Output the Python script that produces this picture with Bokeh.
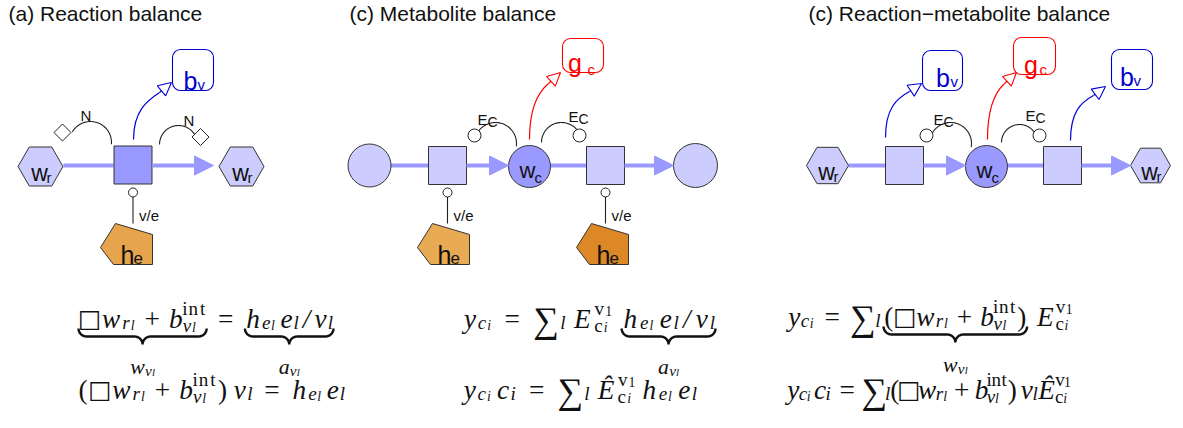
import numpy as np
from bokeh.plotting import figure
from bokeh.models import ColumnDataSource, Range1d, Arrow, NormalHead
from bokeh.embed import file_html
from bokeh.resources import INLINE
from bokeh.core.properties import value

# ---------------- texts ----------------
TITLES = ["(a) Reaction balance", "(c) Metabolite balance", "(c) Reaction\u2212metabolite balance"]
TITLE_X = [8, 349, 808]
TITLE_Y = [21, 21, 21]

# ---------------- diagram layout ----------------
HEX_X = [40, 241, 827, 1150]
HEX_Y = [174, 174, 173, 173]
HEX_SIZE = [45, 45, 42, 40]

SQ_X = [132.5, 447, 605, 904, 1062]
SQ_Y = [172.5, 173, 173, 173, 173]
SQ_FILL = ["#9999ff", "#ccccff", "#ccccff", "#ccccff", "#ccccff"]

SP_X = [369, 529, 695, 986]
SP_Y = [173, 174, 173, 174]
SP_SIZE = [43, 42, 44, 42]
SP_FILL = ["#ccccff", "#9999ff", "#ccccff", "#9999ff"]
SP_MAIN = ["", "w", "", "w"]
SP_SUB = ["", "c", "", "c"]

FLOW_Y = [173, 173, 173, 173, 173]
FLOW_X0 = [63, 390, 550, 848, 1007]
FLOW_X1 = [113, 428, 586, 885, 1043]
ARR_X0 = [152, 466, 624, 923, 1081]
ARR_X1 = [213, 508, 673, 965, 1130]

BOX_X = [192.5, 582.5, 942, 1034, 1131.5]
BOX_Y = [77.5, 63, 78, 63.5, 77]
BOX_W = [41, 41, 40, 42, 41]
BOX_H = [41, 34, 40, 37, 40]
BOX_COLOR = ["#0000cc", "#ff0000", "#0000cc", "#ff0000", "#0000cc"]
BOX_MAIN = ["b", "g", "b", "g", "b"]
BOX_SUB = ["v", "c", "v", "c", "v"]
BOX_MAIN_DX = [-2.5, -8, 0.5, -3.5, -5]
BOX_SUB_DX = [4.5, 4.5, 8, 5, 1.5]
BOX_MAIN_DY = [10.5, 7, 7, 8.5, 7]
BOX_SUB_DY = [14.5, 14, 11, 13.5, 11]

CUR_X0 = [133, 529, 885, 987, 1070]
CUR_Y0 = [147, 147, 145, 147, 148]
CUR_CX0 = [133, 529, 885, 987, 1070]
CUR_CY0 = [118, 118, 116, 118, 120]
CUR_CX1 = [147, 537, 896, 993, 1080]
CUR_CY1 = [108, 100, 106, 101, 110]
CUR_X1 = [159, 548, 909, 1004, 1093]
CUR_Y1 = [100, 91, 99, 91, 103]
TIP_X = [171, 560, 921, 1016, 1105]
TIP_Y = [90, 80, 91, 80, 94]
CUR_COLOR = ["#0000dd", "#ff0000", "#0000dd", "#ff0000", "#0000dd"]

ARC_CX = [90, 178, 495, 561, 950, 1019]
ARC_CY = [150, 152, 151, 150, 151, 150]
ARC_R = [21, 19, 21, 20, 21, 18]
ARC_A0 = [-5, 25, -8, 25, -10, 30]
ARC_A1 = [150, 180, 147, 180, 150, 180]
ARC_LAB = ["N", "N", "E", "E", "E", "E"]
ARC_LAB_SUB = ["", "", "C", "C", "C", "C"]
ARC_LAB_X = [80, 183, 477, 568, 933, 1025]
ARC_LAB_Y = [123, 128, 127, 124, 127, 123]

DIA_X = [62, 200]
DIA_Y = [140, 144.5]
MODC_X = [474, 579, 926, 1039]
MODC_Y = [143, 143, 143, 143]

CAT_X = [132.5, 447, 605]
CAT_CIRCLE_Y = 200
CAT_Y0, CAT_Y1 = 204, 231

HE_X = [126, 443, 602]
HE_Y = [252, 252, 252]
HE_FILL = ["#e6a54c", "#e8aa52", "#dc8826"]
PENT_DX = [-11, 26, 26, -13, -26]
PENT_DY = [-21, -10, 20, 20, 3]

# ---------------- equations ----------------
BOX = "\u25a1"
SUM = "\u2211"
EHAT = "\u00ca"

EQ_A1 = [("", "bs"), (BOX, "sym"), ("w", "i"), ("r", "si"), ("l", "ssi"), (".222", "sp"), ("+", "r"), (".222", "sp"),
         ("b", "i"), ("[", "st"), ("int", "pr"), ("|", "st"), ("v", "si"), ("l", "ssi"), ("]", "st"), ("w", "be"),
         (".278", "sp"), ("=", "r"), (".278", "sp"),
         ("", "bs"), ("h", "i"), ("e", "si"), ("l", "ssi"), (".167", "sp"), ("e", "i"), ("l", "si"), ("/", "i"),
         ("v", "i"), ("l", "si"), ("a", "be")]
EQ_A2 = [("(", "r"), (BOX, "sym"), ("w", "i"), ("r", "si"), ("l", "ssi"), (".222", "sp"), ("+", "r"), (".222", "sp"),
         ("b", "i"), ("[", "st"), ("int", "pr"), ("|", "st"), ("v", "si"), ("l", "ssi"), ("]", "st"), (")", "r"),
         (".167", "sp"), ("v", "i"), ("l", "si"), (".278", "sp"), ("=", "r"), (".278", "sp"),
         ("h", "i"), ("e", "si"), ("l", "ssi"), (".167", "sp"), ("e", "i"), ("l", "si")]
EQ_M1 = [("y", "i"), ("c", "si"), ("i", "ssi"), (".278", "sp"), ("=", "r"), (".278", "sp"), (SUM, "sum"), ("l", "si"),
         (".167", "sp"), ("E", "i"), ("[", "st"), ("v", "pr"), ("1", "psr"), ("|", "st"), ("c", "sr"), ("i", "ssi"),
         ("]", "st"), (".3", "sp"),
         ("", "bs"), ("h", "i"), ("e", "si"), ("l", "ssi"), (".167", "sp"), ("e", "i"), ("l", "si"), ("/", "i"),
         ("v", "i"), ("l", "si"), ("a", "be")]
EQ_M2 = [("y", "i"), ("c", "si"), ("i", "ssi"), (".167", "sp"), ("c", "i"), ("i", "si"), (".278", "sp"), ("=", "r"),
         (".278", "sp"), (SUM, "sum"), ("l", "si"), (".167", "sp"), (EHAT, "i"), ("[", "st"), ("v", "pr"),
         ("1", "psr"), ("|", "st"), ("c", "sr"), ("i", "ssi"), ("]", "st"), (".167", "sp"),
         ("h", "i"), ("e", "si"), ("l", "ssi"), (".167", "sp"), ("e", "i"), ("l", "si")]
EQ_R1 = [("y", "i"), ("c", "si"), ("i", "ssi"), (".278", "sp"), ("=", "r"), (".278", "sp"), (SUM, "sum"), ("l", "si"),
         (".1", "sp"), ("", "bs"), ("(", "r"), (BOX, "sym"), ("w", "i"), ("r", "si"), ("l", "ssi"), (".222", "sp"),
         ("+", "r"), (".222", "sp"), ("b", "i"), ("[", "st"), ("int", "pr"), ("|", "st"), ("v", "si"), ("l", "ssi"),
         ("]", "st"), (")", "r"), ("w", "be"), (".3", "sp"),
         ("E", "i"), ("[", "st"), ("v", "pr"), ("1", "psr"), ("|", "st"), ("c", "sr"), ("i", "ssi"), ("]", "st")]
EQ_R2 = [("y", "i"), ("c", "si"), ("i", "ssi"), (".167", "sp"), ("c", "i"), ("i", "si"), (".278", "sp"), ("=", "r"),
         (".278", "sp"), (SUM, "sum"), ("l", "si"), ("(", "r"), (BOX, "sym"), ("w", "i"), ("r", "si"), ("l", "ssi"),
         (".222", "sp"), ("+", "r"), (".222", "sp"), ("b", "i"), ("[", "st"), ("int", "pr"), ("|", "st"),
         ("v", "si"), ("l", "ssi"), ("]", "st"), (")", "r"), (".167", "sp"), ("v", "i"), ("l", "si"),
         (EHAT, "i"), ("[", "st"), ("v", "pr"), ("1", "psr"), ("|", "st"), ("c", "sr"), ("i", "ssi"), ("]", "st")]
LABEL_W = [("w", "i"), ("v", "si"), ("l", "ssi")]
LABEL_A = [("a", "i"), ("v", "si"), ("l", "ssi")]

EQS = [EQ_A1, EQ_A2, EQ_M1, EQ_M2, EQ_R1, EQ_R2]
EQ_X0 = [78, 77, 462, 462, 787, 787]
EQ_X1 = [333, 345, 715, 697, 1072, 1070]
EQ_BASE = [326, 397, 326, 397, 324, 397]

# ---------------- styles ----------------
SANS = "Liberation Sans"
SERIF = "Liberation Serif"
SYMF = "DejaVu Sans"
INK = "#111111"
STROKE = "#333333"
EDGE = "#9999ff"
F = 26
GLYPH = 1.05

IT_W = {"a": .529, "b": .429, "c": .433, "e": .466, "h": .576, "i": .345, "l": .298, "r": .451, "v": .485,
        "w": .716, "y": .49, "E": .738, EHAT: .738, "/": .5}
RM_W = {"(": .389, ")": .389, "+": .778, "=": .778, "i": .278, "n": .556, "t": .389, "v": .528, "1": .5,
        "c": .444, BOX: .778, SUM: .9}
KIND = {
    "i": (1.0, 1.0, 0.0, "italic", SERIF),
    "r": (1.0, 1.0, 0.0, "normal", SERIF),
    "sym": (0.95, 1.0, 0.0, "normal", SYMF),
    "sum": (1.32, 1.0, 0.07, "normal", SERIF),
    "si": (0.7, 0.7, 0.17, "italic", SERIF),
    "sr": (0.7, 0.7, 0.17, "normal", SERIF),
    "ssi": (0.5, 0.5, 0.27, "italic", SERIF),
    "pr": (0.7, 0.7, -0.38, "normal", SERIF),
    "psr": (0.5, 0.5, -0.30, "normal", SERIF),
}


def layout(tokens, x0, y0, size, xs=1.0):
    recs, braces = [], []
    x = x0
    in_stack = False
    stack_x = sup_end = 0.0
    bstart = x0
    for text, kind in tokens:
        if kind == "sp":
            x += float(text) * size * xs
        elif kind == "st":
            if text == "[":
                in_stack, stack_x = True, x
            elif text == "|":
                sup_end, x = x, stack_x
            else:
                in_stack, x = False, max(x, sup_end)
        elif kind == "bs":
            bstart = x
        elif kind == "be":
            braces.append((bstart, x, text))
        else:
            sf, wf, dy, style, font = KIND[kind]
            if in_stack and kind in ("si", "sr", "ssi"):
                dy += 0.08
            table = IT_W if style == "italic" else RM_W
            for ch in text:
                w = table.get(ch, 0.5) * wf * size * xs
                gs = sf * size * (GLYPH if font == SERIF else 1.0)
                recs.append((x + w / 2, y0 + dy * size, ch, gs, style, font))
                x += w
    return recs, braces, x - x0


def brace_path(x0, x1, top, h):
    r = h / 2
    xm = (x0 + x1) / 2
    t = np.linspace(0, np.pi / 2, 10)
    lx = np.concatenate([x0 + r * (1 - np.cos(t)), xm - r + r * np.sin(t)])
    ly = np.concatenate([top + r * np.sin(t), top + r + r * (1 - np.cos(t))])
    rx = 2 * xm - lx[::-1]
    ry = ly[::-1]
    return list(np.concatenate([lx, rx])), list(np.concatenate([ly, ry]))


# ---------------- figure ----------------
W, H = 1175, 412
p = figure(width=W, height=H, x_range=Range1d(0, W), y_range=Range1d(8 + H, 8),
           output_backend="svg", toolbar_location=None, min_border=0,
           x_axis_location=None, y_axis_location=None)
p.grid.visible = False
p.outline_line_color = None
p.background_fill_color = "white"

# flows
p.segment(x0=FLOW_X0, y0=FLOW_Y, x1=FLOW_X1, y1=FLOW_Y, line_color=EDGE, line_width=4)
p.add_layout(Arrow(source=ColumnDataSource(dict(x0=ARR_X0, x1=ARR_X1, y=FLOW_Y)),
                   x_start="x0", y_start="y", x_end="x1", y_end="y", line_color=EDGE, line_width=4,
                   end=NormalHead(size=19, fill_color=EDGE, line_color=EDGE, line_width=1)))

# modifier arcs
arc_xs, arc_ys = [], []
for cx, cy, r, a0, a1 in zip(ARC_CX, ARC_CY, ARC_R, ARC_A0, ARC_A1):
    th = np.radians(np.linspace(a0, a1, 40))
    arc_xs.append(list(cx + r * np.cos(th)))
    arc_ys.append(list(cy - r * np.sin(th)))
p.multi_line(xs=arc_xs, ys=arc_ys, line_color="#222222", line_width=1.1)

# catalysis links
p.segment(x0=CAT_X, y0=[CAT_Y0] * 3, x1=CAT_X, y1=[CAT_Y1] * 3, line_color="#222222", line_width=1.1)

# curved arrows
p.bezier(x0=CUR_X0, y0=CUR_Y0, x1=CUR_X1, y1=CUR_Y1, cx0=CUR_CX0, cy0=CUR_CY0, cx1=CUR_CX1, cy1=CUR_CY1,
         line_color=CUR_COLOR, line_width=1.2)
for col in ["#0000dd", "#ff0000"]:
    idx = [i for i, c in enumerate(CUR_COLOR) if c == col]
    src = ColumnDataSource(dict(x0=[CUR_X1[i] for i in idx], y0=[CUR_Y1[i] for i in idx],
                                x1=[TIP_X[i] for i in idx], y1=[TIP_Y[i] for i in idx]))
    p.add_layout(Arrow(source=src, x_start="x0", y_start="y0", x_end="x1", y_end="y1",
                       line_color=col, line_width=1.2,
                       end=NormalHead(size=13, fill_color="white", line_color=col, line_width=1.1)))

# nodes
p.scatter(x=HEX_X, y=HEX_Y, size=HEX_SIZE, marker="hex", fill_color="#ccccff", line_color=STROKE, line_width=1)
p.scatter(x=SQ_X, y=SQ_Y, size=38, marker="square", fill_color=SQ_FILL, line_color=STROKE, line_width=1)
p.scatter(x=SP_X, y=SP_Y, size=SP_SIZE, marker="circle", fill_color=SP_FILL, line_color=STROKE, line_width=1)
p.quad(left=[x - w / 2 for x, w in zip(BOX_X, BOX_W)], right=[x + w / 2 for x, w in zip(BOX_X, BOX_W)],
       top=[y - h / 2 for y, h in zip(BOX_Y, BOX_H)], bottom=[y + h / 2 for y, h in zip(BOX_Y, BOX_H)],
       fill_color="white", line_color=BOX_COLOR, line_width=1.1, border_radius=8)
p.patches(xs=[[x + d for d in PENT_DX] for x in HE_X], ys=[[y + d for d in PENT_DY] for y in HE_Y],
          fill_color=HE_FILL, line_color=STROKE, line_width=1)
p.scatter(x=DIA_X, y=DIA_Y, size=12, marker="square", angle=np.pi / 4, fill_color="white",
          line_color="#222222", line_width=1)
p.scatter(x=MODC_X, y=MODC_Y, size=13, marker="circle", fill_color="white", line_color="#222222", line_width=1)
p.scatter(x=CAT_X, y=[CAT_CIRCLE_Y] * 3, size=9, marker="circle", fill_color="white", line_color="#222222",
          line_width=1)

# node labels
lab = {"center": dict(x=[], y=[], text=[], size=[], color=[]), "left": dict(x=[], y=[], text=[], size=[], color=[])}


def add_label(x, y, t, s, c=INK, a="center"):
    d = lab[a]
    d["x"].append(x); d["y"].append(y); d["text"].append(t); d["size"].append(f"{s}px"); d["color"].append(c)


for x, y in zip(HEX_X, HEX_Y):
    add_label(x - 1, y + 6, "w", 23)
    add_label(x + 6, y + 11, "r", 15, a="left")
for x, y, m, s in zip(SP_X, SP_Y, SP_MAIN, SP_SUB):
    if m:
        add_label(x - 2, y + 4, m, 22)
        add_label(x + 5, y + 11, s, 15, a="left")
for i in range(len(BOX_X)):
    add_label(BOX_X[i] + BOX_MAIN_DX[i], BOX_Y[i] + BOX_MAIN_DY[i], BOX_MAIN[i], 25, BOX_COLOR[i])
    add_label(BOX_X[i] + BOX_SUB_DX[i], BOX_Y[i] + BOX_SUB_DY[i], BOX_SUB[i], 15, BOX_COLOR[i], "left")
for x, y in zip(HE_X, HE_Y):
    add_label(x + 1, y + 10, "h", 25)
    add_label(x + 7, y + 13, "e", 17, a="left")
for lx, ly, m, s in zip(ARC_LAB_X, ARC_LAB_Y, ARC_LAB, ARC_LAB_SUB):
    add_label(lx, ly, m, 15, a="left")
    if s:
        add_label(lx + 10, ly + 2, s, 14, a="left")
for x in CAT_X:
    add_label(x + 6, 223, "v/e", 15, a="left")

for a, d in lab.items():
    p.text(x="x", y="y", text="text", source=ColumnDataSource(d), text_font=value(SANS), text_font_size="size",
           text_color="color", text_align=a, text_baseline="alphabetic")

# titles
p.text(x=TITLE_X, y=TITLE_Y, text=TITLES, text_font=value(SANS), text_font_size="21px", text_color=INK,
       text_align="left", text_baseline="alphabetic")

# equations
math = dict(x=[], y=[], text=[], size=[], style=[], font=[])
brace_xs, brace_ys = [], []


def add_recs(recs):
    for x, y, t, s, st, fnt in recs:
        math["x"].append(x); math["y"].append(y); math["text"].append(t)
        math["size"].append(f"{s:.1f}px"); math["style"].append(st); math["font"].append(fnt)


for toks, xa, xb, base in zip(EQS, EQ_X0, EQ_X1, EQ_BASE):
    _, _, w0 = layout(toks, 0, 0, F)
    recs, braces, _ = layout(toks, xa, base, F, (xb - xa) / w0)
    add_recs(recs)
    for bx0, bx1, key in braces:
        bx, by = brace_path(bx0, bx1, base + 10, 16)
        brace_xs.append(bx); brace_ys.append(by)
        ltoks = LABEL_W if key == "w" else LABEL_A
        _, _, lw = layout(ltoks, 0, 0, F * 0.8)
        lrecs, _, _ = layout(ltoks, (bx0 + bx1) / 2 - lw / 2, base + 48, F * 0.8)
        add_recs(lrecs)

p.multi_line(xs=brace_xs, ys=brace_ys, line_color="#111111", line_width=2.4)
p.text(x="x", y="y", text="text", source=ColumnDataSource(math), text_font="font", text_font_size="size",
       text_font_style="style", text_color="#111111", text_align="center", text_baseline="alphabetic")

open("out.html", "w").write(file_html(p, INLINE))
